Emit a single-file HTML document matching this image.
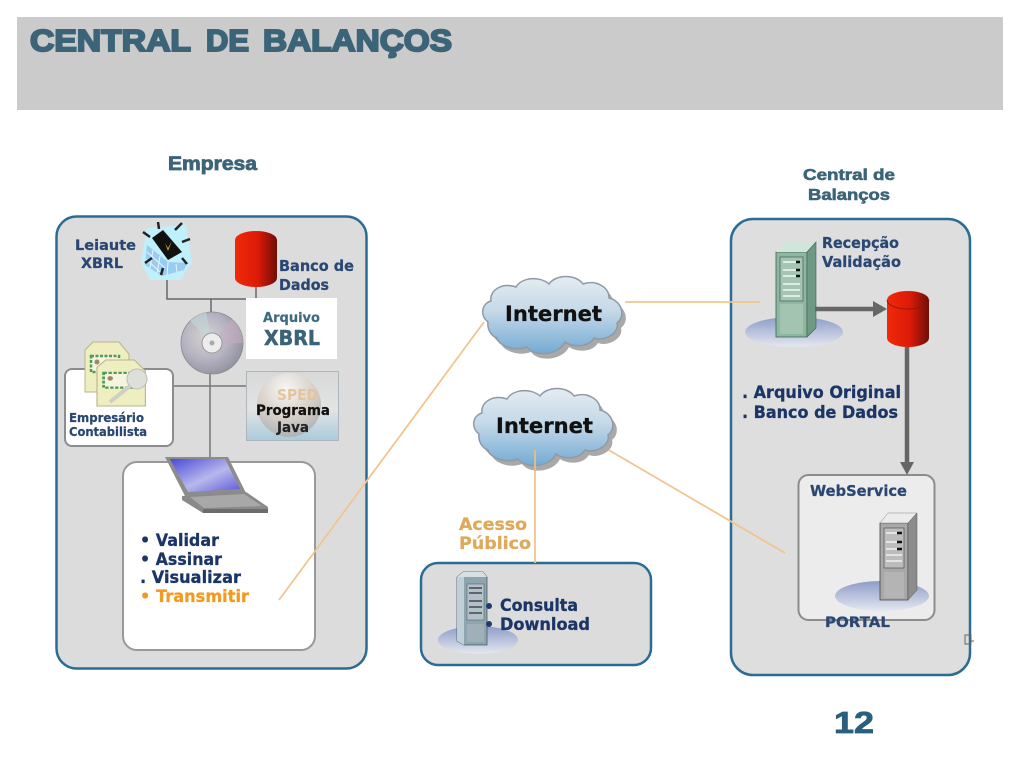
<!DOCTYPE html>
<html lang="pt">
<head>
<meta charset="utf-8">
<title>Central de Balanços</title>
<style>
html,body{margin:0;padding:0;background:#fff;width:1024px;height:768px;overflow:hidden}
svg{display:block;filter:blur(.35px)}
text{font-family:"DejaVu Sans","Liberation Sans",sans-serif;font-weight:bold}
.d{fill:#1b3566;stroke:#1b3566;stroke-width:.3}
.n{fill:#2a4773;stroke:#2a4773;stroke-width:.25}
.h{fill:#3c6478;stroke:#3c6478}
.t{font-family:"Liberation Sans",sans-serif}
</style>
</head>
<body>
<svg width="1024" height="768" viewBox="0 0 1024 768" xmlns="http://www.w3.org/2000/svg">
<defs>
<linearGradient id="cl" x1="0" y1="0" x2="0" y2="1"><stop offset="0" stop-color="#e4ecf1"/><stop offset=".45" stop-color="#c4d9e8"/><stop offset="1" stop-color="#74aad4"/></linearGradient>
<linearGradient id="red" x1="0" y1="0" x2="1" y2="0"><stop offset="0" stop-color="#f02a08"/><stop offset=".55" stop-color="#dc1a08"/><stop offset="1" stop-color="#6e0e06"/></linearGradient>
<radialGradient id="disc" cx=".4" cy=".4" r=".7"><stop offset="0" stop-color="#d4d4cc"/><stop offset=".5" stop-color="#b8b4c4"/><stop offset="1" stop-color="#8a8c98"/></radialGradient>
<linearGradient id="ell" x1="0" y1="0" x2="0" y2="1"><stop offset="0" stop-color="#8e9cc8"/><stop offset="1" stop-color="#e4e8f0"/></linearGradient>
<linearGradient id="scr" x1="0" y1="0" x2="1" y2="1"><stop offset="0" stop-color="#4848d8"/><stop offset=".55" stop-color="#b8b8ec"/><stop offset="1" stop-color="#5a5ad8"/></linearGradient>
<linearGradient id="jv" x1="0" y1="0" x2="0" y2="1"><stop offset="0" stop-color="#d8d8d8"/><stop offset=".55" stop-color="#e2e4e4"/><stop offset="1" stop-color="#a9cbdc"/></linearGradient>
<radialGradient id="sph" cx=".45" cy=".25" r=".8"><stop offset="0" stop-color="#f6f6f6"/><stop offset=".55" stop-color="#d8d0c8"/><stop offset="1" stop-color="#a8b0b4"/></radialGradient>
<path id="cloud" d="M488 322C480 316 481 304 491 301C489 290 503 282 516 287C522 277 540 276 549 284C556 274 576 274 583 284C596 279 610 288 609 298C622 301 626 316 617 323C620 333 604 342 594 338C588 348 572 347 565 342C558 356 534 357 527 347C514 352 498 345 497 338C491 336 487 329 488 322Z"/>
<g id="cert">
<path d="M0 8L8 0H34L44 12V50H0Z" fill="#efeec0" stroke="#b8b48c" stroke-width="1"/>
<path d="M6 14H34V30H6Z" fill="#f4f4e0" stroke="#4f9a5c" stroke-width="2.500" stroke-dasharray="3 1.5"/>
<circle cx="12" cy="20" r="2.500" fill="#a08858"/>
</g>
</defs>

<!-- header -->
<rect x="17" y="17" width="986" height="93" fill="#cbcbcb"/>
<g class="h t" font-size="31" stroke-width="2">
<text x="30" y="51" class="h t" stroke-width="2" textLength="161" lengthAdjust="spacingAndGlyphs">CENTRAL</text>
<text x="206" y="51" class="h t" stroke-width="2" textLength="43" lengthAdjust="spacingAndGlyphs">DE</text>
<text x="263" y="51" class="h t" stroke-width="2" textLength="189" lengthAdjust="spacingAndGlyphs">BALANÇOS</text>
</g>

<text x="168" y="170" class="h t" font-size="19" stroke-width=".8" textLength="89" lengthAdjust="spacingAndGlyphs">Empresa</text>
<text x="803" y="180" class="h t" font-size="16" stroke-width=".6" textLength="92" lengthAdjust="spacingAndGlyphs">Central de</text>
<text x="808" y="200" class="h t" font-size="16" stroke-width=".6" textLength="82" lengthAdjust="spacingAndGlyphs">Balanços</text>

<!-- panels -->
<rect x="56.500" y="216.500" width="310" height="452" rx="20" fill="#dcdcdc" stroke="#2b6c92" stroke-width="2.500"/>
<rect x="731" y="219" width="239" height="456" rx="22" fill="#dedede" stroke="#2b6c92" stroke-width="2.500"/>
<rect x="421" y="563" width="230" height="102" rx="17" fill="#dcdcdc" stroke="#2b6c92" stroke-width="2.500"/>

<!-- orange connectors -->
<g stroke="#f2c48f" stroke-width="1.800" fill="none">
<path d="M625 302H760"/>
<path d="M535 450V563"/>
<path d="M607 449L785 553"/>
</g>

<!-- clouds -->
<use href="#cloud" x="4" y="5" fill="#a9a9a9"/>
<use href="#cloud" fill="url(#cl)" stroke="#8e9aa6" stroke-width="1.500"/>
<g transform="translate(-9 112)">
<use href="#cloud" x="4" y="5" fill="#a9a9a9"/>
<use href="#cloud" fill="url(#cl)" stroke="#8e9aa6" stroke-width="1.500"/>
</g>
<path d="M535 450V470" stroke="#e8c080" stroke-width="1.800"/>
<text x="505" y="321" font-size="21" fill="#111" stroke="#111" stroke-width=".3" textLength="97" lengthAdjust="spacingAndGlyphs">Internet</text>
<text x="496" y="433" font-size="21" fill="#111" stroke="#111" stroke-width=".3" textLength="97" lengthAdjust="spacingAndGlyphs">Internet</text>

<!-- left gray connectors -->
<g stroke="#666" stroke-width="1.500" fill="none">
<path d="M167 280V299H250"/>
<path d="M211 299V322"/>
<path d="M256 286V299"/>
<path d="M172 386H248" stroke="#777"/>
<path d="M210 372V460" stroke="#777"/>
</g>

<!-- Leiaute icon -->
<path d="M147 228L186 225L192 262L180 280H150L141 262Z" fill="#bff0fb"/>
<path d="M147 245L168 262L187 263L184 270L162 276L145 265Z" fill="#9accf2"/>
<path d="M147 252L165 268M146 259L160 272M153 250L150 268M160 256L157 274M168 262L167 276M176 264L177 272" stroke="#e6f5fd" stroke-width="1"/>
<path d="M152 238L163 230L182 252L168 260Z" fill="#111"/>
<path d="M165 243L168 248L172 241L168 251Z" fill="#c9a040"/>
<g stroke="#222" stroke-width="2.500"><path d="M158 222L159 229"/><path d="M182 223L175 230"/><path d="M190 239L182 242"/><path d="M143 232L150 237"/><path d="M145 263L152 258"/><path d="M161 275L163 268"/><path d="M182 258L187 264"/></g>

<!-- cylinder left -->
<rect x="235" y="240" width="42" height="38" fill="url(#red)"/>
<ellipse cx="256" cy="278" rx="21" ry="9" fill="url(#red)"/>
<ellipse cx="256" cy="240" rx="21" ry="9" fill="url(#red)"/>

<!-- Arquivo box -->
<rect x="246" y="298" width="91" height="61" fill="#fff"/>
<text x="263" y="322" font-size="13.500" fill="#3f6a80" stroke="#3f6a80" stroke-width=".2" textLength="57" lengthAdjust="spacingAndGlyphs">Arquivo</text>
<text x="264" y="345" font-size="20" fill="#3b6378" stroke="#3b6378" stroke-width=".5" textLength="56" lengthAdjust="spacingAndGlyphs">XBRL</text>

<!-- disc -->
<circle cx="212" cy="343" r="31" fill="url(#disc)" stroke="#8a8a8a" stroke-width=".8"/>
<path d="M212 343L232 319A31 31 0 0 1 243 343Z" fill="#c8aec0" opacity=".5"/>
<path d="M212 343L190 321A31 31 0 0 1 206 312Z" fill="#bfd8d8" opacity=".6"/>
<circle cx="212" cy="343" r="10" fill="#ececec" stroke="#999"/>
<circle cx="212" cy="343" r="2.500" fill="#aaa"/>

<!-- Programa box -->
<rect x="246.500" y="371.500" width="92" height="69" fill="url(#jv)" stroke="#aeb6bc"/>
<circle cx="289" cy="405" r="32" fill="url(#sph)"/>
<text x="277" y="400" font-size="15" fill="#e3c49c" textLength="41" lengthAdjust="spacingAndGlyphs">SPED</text>
<text x="256" y="415" font-size="14" fill="#111" stroke="#111" stroke-width=".25" textLength="74" lengthAdjust="spacingAndGlyphs">Programa</text>
<text x="277" y="432" font-size="14" fill="#222" stroke="#222" stroke-width=".2" textLength="32" lengthAdjust="spacingAndGlyphs">Java</text>

<!-- Empresario box -->
<rect x="65" y="369" width="108" height="77" rx="7" fill="#fff" stroke="#8c8c8c" stroke-width="2"/>
<use href="#cert" x="85" y="342"/>
<g transform="translate(97 360) scale(1.1 .92)"><use href="#cert"/></g>
<circle cx="137" cy="379" r="10" fill="#dededa" stroke="#bcbcb8"/>
<path d="M130 386L110 402" stroke="#cfcfc6" stroke-width="4"/>
<text x="69" y="422" font-size="12" class="n" textLength="75" lengthAdjust="spacingAndGlyphs">Empresário</text>
<text x="69" y="436" font-size="12" class="n" textLength="78" lengthAdjust="spacingAndGlyphs">Contabilista</text>

<!-- Labels left -->
<text x="75" y="250" font-size="14" class="n" textLength="61" lengthAdjust="spacingAndGlyphs">Leiaute</text>
<text x="81" y="268" font-size="14" class="n" textLength="42" lengthAdjust="spacingAndGlyphs">XBRL</text>
<text x="279" y="271" font-size="15" class="n" textLength="75" lengthAdjust="spacingAndGlyphs">Banco de</text>
<text x="279" y="290" font-size="15" class="n" textLength="50" lengthAdjust="spacingAndGlyphs">Dados</text>

<!-- Laptop box -->
<rect x="123" y="462" width="192" height="188" rx="14" fill="#fff" stroke="#999" stroke-width="2"/>
<path d="M165 457H228L246 493L185 496Z" fill="#8c8c8c"/>
<path d="M170 459H225L240 489L188 492Z" fill="url(#scr)"/>
<path d="M182 496L246 492L268 507V513H203L182 500Z" fill="#8a8a8a"/>
<path d="M190 497L244 494L262 506L204 508Z" fill="#a8a8a8"/>
<path d="M203 509H268V513H203Z" fill="#6c6c6c"/>
<path d="M279 600L484 322" stroke="#f2c48f" stroke-width="1.800" fill="none"/>

<text x="140" y="546" font-size="17" class="d" textLength="79" lengthAdjust="spacingAndGlyphs">• Validar</text>
<text x="140" y="565" font-size="17" class="d" textLength="82" lengthAdjust="spacingAndGlyphs">• Assinar</text>
<text x="140" y="583" font-size="17" class="d" textLength="101" lengthAdjust="spacingAndGlyphs">. Visualizar</text>
<text x="140" y="602" font-size="17" fill="#f39a22" stroke="#f39a22" stroke-width=".3" textLength="109" lengthAdjust="spacingAndGlyphs">• Transmitir</text>

<!-- Acesso -->
<text x="459" y="530" font-size="17" fill="#dfa95c" stroke="#dfa95c" stroke-width=".3" textLength="68" lengthAdjust="spacingAndGlyphs">Acesso</text>
<text x="459" y="549" font-size="17" fill="#dfa95c" stroke="#dfa95c" stroke-width=".3" textLength="72" lengthAdjust="spacingAndGlyphs">Público</text>

<!-- mid server -->
<ellipse cx="478" cy="640" rx="40" ry="14" fill="url(#ell)"/>
<path d="M457 577L463 572H483L487 577V645H464L457 641Z" fill="#8ea4ae" stroke="#4a5a64" stroke-width=".8"/>
<path d="M457 577L463 572H483L487 577H464Z" fill="#d6e0e4"/>
<path d="M457 577H464V645L457 641Z" fill="#c0d0d8"/>
<rect x="467" y="584" width="17" height="36" fill="#b4c2c8" stroke="#56666e" stroke-width=".6"/>
<path d="M469 588H482M469 593H482M469 601H482M469 607H482M469 613H482" stroke="#445" stroke-width="1.500"/>
<rect x="467" y="624" width="17" height="18" fill="#a0b0b8"/>
<circle cx="489" cy="606" r="3" fill="#1f3a68"/>
<circle cx="489" cy="624" r="3" fill="#1f3a68"/>
<text x="500" y="611" font-size="17" class="d" textLength="78" lengthAdjust="spacingAndGlyphs">Consulta</text>
<text x="500" y="630" font-size="17" class="d" textLength="90" lengthAdjust="spacingAndGlyphs">Download</text>

<!-- right: reception server -->
<ellipse cx="794" cy="332" rx="49" ry="15" fill="url(#ell)"/>
<path d="M776 252H807V337H776Z" fill="#8cb8a0" stroke="#3e5e50" stroke-width=".8"/>
<path d="M776 252L785 242H816L807 252Z" fill="#d0e6da"/>
<path d="M807 252L816 242V328L807 337Z" fill="#6e9a84" stroke="#3e5e50" stroke-width=".6"/>
<rect x="780" y="257" width="23" height="44" fill="#a6c4b4" stroke="#3e5e50" stroke-width=".7"/>
<path d="M783 262H800M783 270H800M783 276H800M783 284H800M783 290H800M783 296H800" stroke="#dcece2" stroke-width="2"/>
<path d="M796 262H800M796 270H800M796 276H800" stroke="#111" stroke-width="2.500"/>
<rect x="780" y="304" width="23" height="30" fill="#a4c4b2"/>

<path d="M815 309H875" stroke="#666" stroke-width="4.500"/>
<path d="M873 301L887 309L873 317Z" fill="#666"/>

<!-- cylinder right -->
<rect x="887" y="300" width="42" height="38" fill="url(#red)"/>
<ellipse cx="908" cy="338" rx="21" ry="9" fill="url(#red)"/>
<ellipse cx="908" cy="300" rx="21" ry="9" fill="url(#red)"/>
<path d="M887 300A21 9 0 0 0 929 300" fill="none" stroke="#8e1408" stroke-width=".8"/>

<path d="M907 347V464" stroke="#666" stroke-width="4.500"/>

<text x="822" y="248" font-size="15" class="n" textLength="77" lengthAdjust="spacingAndGlyphs">Recepção</text>
<text x="822" y="267" font-size="15" class="n" textLength="79" lengthAdjust="spacingAndGlyphs">Validação</text>
<text x="742" y="398" font-size="17" class="d" textLength="159" lengthAdjust="spacingAndGlyphs">. Arquivo Original</text>
<text x="742" y="418" font-size="17" class="d" textLength="156" lengthAdjust="spacingAndGlyphs">. Banco de Dados</text>

<!-- WebService box -->
<rect x="798.500" y="475" width="136" height="145" rx="10" fill="#ececec" stroke="#8c8c8c" stroke-width="2"/>
<path d="M900 462L914 462L907 475Z" fill="#666"/>
<text x="810" y="496" font-size="15" class="n" textLength="97" lengthAdjust="spacingAndGlyphs">WebService</text>
<ellipse cx="882" cy="596" rx="47" ry="15" fill="url(#ell)"/>
<path d="M880 523H908V600H880Z" fill="#a8a8a8" stroke="#444" stroke-width=".8"/>
<path d="M880 523L888 513H917L908 523Z" fill="#ececec" stroke="#888" stroke-width=".5"/>
<path d="M908 523L917 513V590L908 600Z" fill="#8c8c8c" stroke="#555" stroke-width=".5"/>
<rect x="884" y="528" width="20" height="40" fill="#bcbcbc" stroke="#555" stroke-width=".7"/>
<path d="M886 533H902M886 542H902M886 549H902M886 555H902M886 561H902" stroke="#e4e4e4" stroke-width="2"/>
<path d="M897 533H902M897 542H902M897 549H902" stroke="#111" stroke-width="2.500"/>
<rect x="884" y="572" width="20" height="26" fill="#b4b4b4"/>
<text x="825" y="627" font-size="14.500" class="n" textLength="65" lengthAdjust="spacingAndGlyphs">PORTAL</text>

<path d="M965 635H971V644H965Z M971 641H974" fill="none" stroke="#666" stroke-width="1"/>

<text x="834" y="733" class="t" font-size="31" fill="#2b5f7e" stroke="#2b5f7e" stroke-width=".8" textLength="40" lengthAdjust="spacingAndGlyphs">12</text>
</svg>
</body>
</html>
